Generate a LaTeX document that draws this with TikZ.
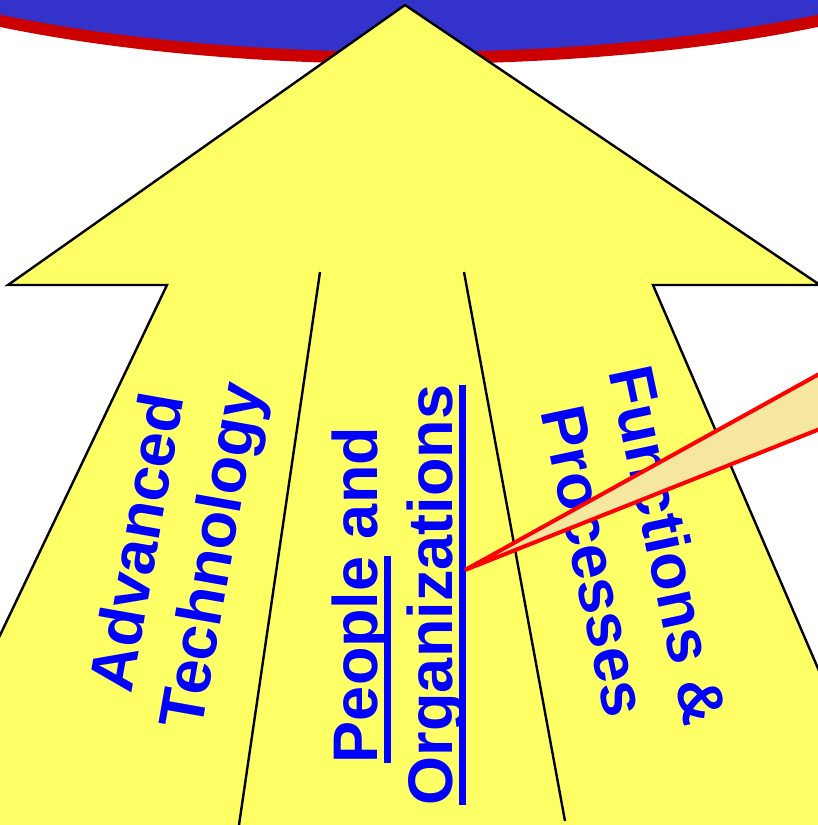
\documentclass[tikz,border=0pt]{standalone}
\usepackage{fontspec}
\setmainfont{Liberation Sans}
\usepackage{xcolor}
\usetikzlibrary{shapes, arrows.meta, calc, positioning}
\definecolor{azulElipse}{HTML}{3333CC}
\definecolor{rojoElipse}{HTML}{CC0000}
\definecolor{amarilloFlecha}{HTML}{FFFF66}
\definecolor{azulTexto}{HTML}{0000FF}
\definecolor{rojoGlobo}{HTML}{FF0000}
\definecolor{cremaGlobo}{HTML}{F5E6A0}
\newcommand{\subrayado}[1]{\setbox0=\hbox{#1}\rlap{\rule[-13pt]{\wd0}{7pt}}\box0\relax}

\begin{document}
\begin{tikzpicture}[
  x=1pt, y=-1pt,
  % Estilos de formas
  elipseSuperior/.style={
    draw=rojoElipse, fill=azulElipse, line width=12pt
  },
  flechaGrande/.style={
    draw=black, fill=amarilloFlecha, line width=2.4pt, line join=miter
  },
  lineaDivision/.style={
    draw=black, line width=2.4pt
  },
  % Estilo de textos
  textoPilar/.style={
    text=azulTexto, font=\fontsize{63}{75}\selectfont\bfseries,
    align=center, inner sep=0pt
  },
  globo/.style={
    draw=rojoGlobo, fill=cremaGlobo, line width=4pt
  }
]

\useasboundingbox (0,0) rectangle (818,825);
\clip (0,0) rectangle (818,825);

% --- Elipse superior ---
\draw[elipseSuperior] (409,-109) ellipse [x radius=650, y radius=167];

% --- Flecha grande ---
\draw[flechaGrande] (405,5) -- (820,285) -- (653,285) -- (894,845)
  -- (-100,845) -- (167,285) -- (8,285) -- cycle;

% --- Divisiones ---
\draw[lineaDivision] (320,272) -- (239,825);
\draw[lineaDivision] (464,272) -- (565,821);

% --- Textos de los pilares ---
\node[textoPilar, rotate=80] (tecnologia) at (179,550)
  {Advanced\\Technology};
\node[textoPilar, rotate=90] (personas) at (399,595)
  {\subrayado{People} and\\\subrayado{Organizations}};
\node[textoPilar, rotate=-78] (funciones) at (632,553)
  {Functions \&\\Processes};

% --- Globo ---
\coordinate (puntaGlobo) at (465,570);
\draw[globo] (puntaGlobo) -- (830,368) -- (830,425) -- cycle;

\end{tikzpicture}
\end{document}
